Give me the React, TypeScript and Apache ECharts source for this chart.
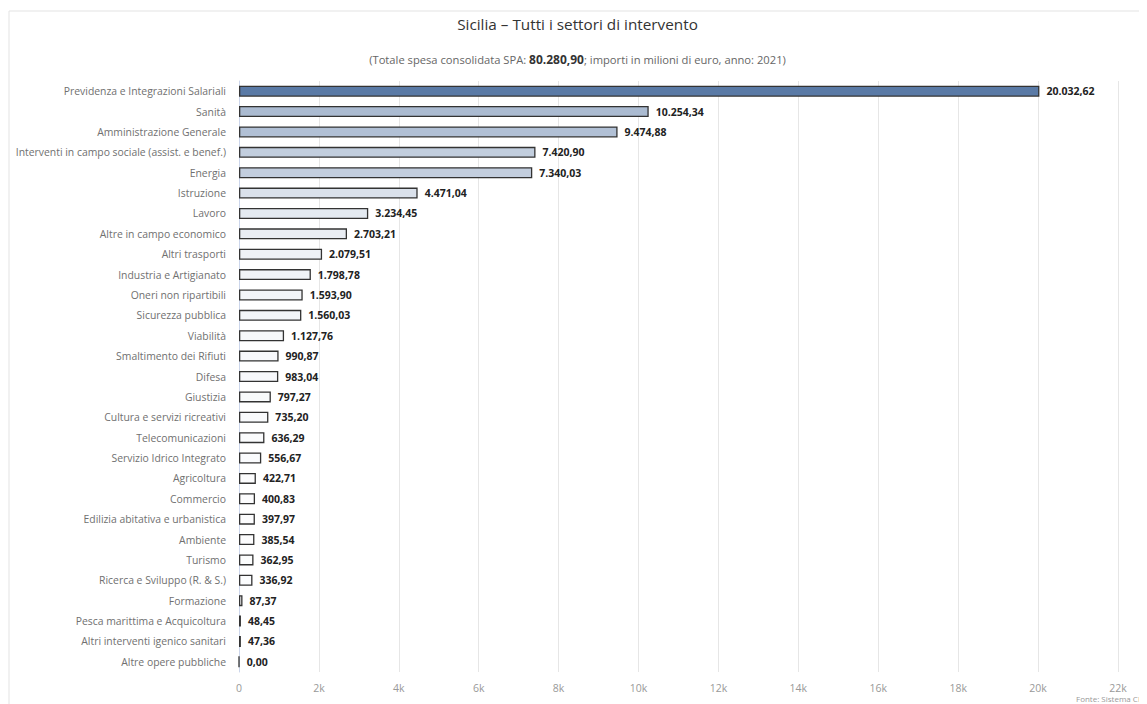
import React, { useEffect, useRef } from "react";
import * as echarts from "echarts";

const categories = [
  "Previdenza e Integrazioni Salariali",
  "Sanità",
  "Amministrazione Generale",
  "Interventi in campo sociale (assist. e benef.)",
  "Energia",
  "Istruzione",
  "Lavoro",
  "Altre in campo economico",
  "Altri trasporti",
  "Industria e Artigianato",
  "Oneri non ripartibili",
  "Sicurezza pubblica",
  "Viabilità",
  "Smaltimento dei Rifiuti",
  "Difesa",
  "Giustizia",
  "Cultura e servizi ricreativi",
  "Telecomunicazioni",
  "Servizio Idrico Integrato",
  "Agricoltura",
  "Commercio",
  "Edilizia abitativa e urbanistica",
  "Ambiente",
  "Turismo",
  "Ricerca e Sviluppo (R. & S.)",
  "Formazione",
  "Pesca marittima e Acquicoltura",
  "Altri interventi igenico sanitari",
  "Altre opere pubbliche",
];

const values = [
  20032.62, 10254.34, 9474.88, 7420.9, 7340.03, 4471.04, 3234.45, 2703.21,
  2079.51, 1798.78, 1593.9, 1560.03, 1127.76, 990.87, 983.04, 797.27, 735.2,
  636.29, 556.67, 422.71, 400.83, 397.97, 385.54, 362.95, 336.92, 87.37, 48.45,
  47.36, 0.0,
];

const xTicks = { min: 0, max: 22000, interval: 2000 };

const fmt = (v: number) => {
  const [i, d] = v.toFixed(2).split(".");
  return i.replace(/\B(?=(\d{3})+(?!\d))/g, ".") + "," + d;
};

const lerp = (a: number, b: number, t: number) => Math.round(a + (b - a) * t);
const colorFor = (v: number, max: number) => {
  const t = Math.max(0, Math.min(1, v / max));
  const lo = [255, 255, 255];
  const hi = [90, 122, 166];
  return `rgb(${lerp(lo[0], hi[0], t)},${lerp(lo[1], hi[1], t)},${lerp(lo[2], hi[2], t)})`;
};

const FONT = "'Open Sans', 'Noto Sans', sans-serif";

export default function App() {
  const ref = useRef<HTMLDivElement>(null);
  useEffect(() => {
    if (!ref.current) return;
    const chart = echarts.init(ref.current, undefined, { renderer: "svg" });
    const max = Math.max(...values);
    chart.setOption({
      animation: false,
      backgroundColor: "#ffffff",
      textStyle: { fontFamily: FONT },
      title: [
        {
          text: "Sicilia – Tutti i settori di intervento",
          left: "center",
          top: 3,
          textStyle: { fontFamily: FONT, fontSize: 15.3, fontWeight: "normal", color: "#333333" },
        },
        {
          text: "{n|(Totale spesa consolidata SPA: }{b|80.280,90}{n|; importi in milioni di euro, anno: 2021)}",
          left: "center",
          top: 40,
          textStyle: {
            fontWeight: "normal",
            fontSize: 11,
            color: "#666666",
            rich: {
              n: { fontFamily: FONT, fontSize: 11.2, color: "#666666", fontWeight: "normal" },
              b: { fontFamily: FONT, fontSize: 12, color: "#333333", fontWeight: "bold" },
            },
          },
        },
      ],
      graphic: [
        {
          type: "rect",
          shape: { x: 1, y: 3, width: 1300, height: 900 },
          style: { fill: "none", stroke: "#e3e3e3", lineWidth: 1 },
          silent: true,
        },
        {
          type: "text",
          x: 1068,
          y: 686,
          style: { text: "Fonte: Sistema CP", fontSize: 8, fill: "#999999", fontFamily: FONT },
          silent: true,
        },
      ],
      grid: { left: 231, right: 29, top: 73, bottom: 32, containLabel: false },
      xAxis: {
        type: "value",
        min: xTicks.min,
        max: xTicks.max,
        interval: xTicks.interval,
        axisLine: { show: false },
        axisTick: { show: false },
        axisLabel: {
          color: "#999999",
          fontSize: 10.5,
          fontFamily: FONT,
          margin: 10,
          formatter: (v: number) => (v === 0 ? "0" : v / 1000 + "k"),
        },
        splitLine: { lineStyle: { color: "#e6e6e6", width: 1 } },
      },
      yAxis: {
        type: "category",
        data: categories,
        inverse: true,
        axisLine: { show: true, lineStyle: { color: "#ccd6eb" } },
        axisTick: { show: false },
        axisLabel: { color: "#707070", fontSize: 10.4, fontFamily: FONT, margin: 13 },
        splitLine: { show: false },
      },
      series: [
        {
          type: "bar",
          data: values.map((v) => ({
            value: v,
            itemStyle: { color: colorFor(v, max) },
          })),
          barWidth: 11,
          itemStyle: { borderColor: "#333333", borderWidth: 1.3 },
          label: {
            show: true,
            position: "right",
            distance: 7,
            formatter: (p: any) => fmt(p.value),
            color: "#222222",
            fontSize: 10.5,
            fontWeight: "bold",
            fontFamily: FONT,
          },
        },
      ],
    });
    return () => chart.dispose();
  }, []);
  return <div ref={ref} style={{ width: 1139, height: 696 }} />;
}
